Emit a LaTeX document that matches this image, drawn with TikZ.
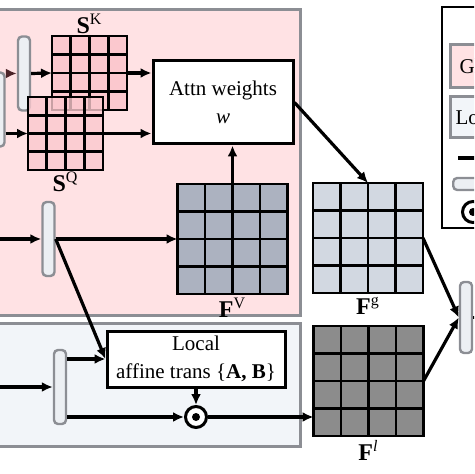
\documentclass[tikz,border=0pt]{standalone}
\usepackage{fontspec}
\setmainfont{Liberation Serif}
\usetikzlibrary{arrows.meta,calc,positioning}

\definecolor{globalbg}{RGB}{255,226,228}
\definecolor{localbg}{RGB}{242,245,249}
\definecolor{regionline}{RGB}{140,142,148}
\definecolor{pinkcell}{RGB}{251,200,206}
\definecolor{vcell}{RGB}{172,178,192}
\definecolor{gcell}{RGB}{210,216,225}
\definecolor{lcell}{RGB}{140,140,140}
\definecolor{barfill}{RGB}{236,239,243}
\definecolor{darkarrow}{RGB}{75,35,40}

\newcommand{\gridlines}[1]{%
  \foreach \k in {1,2,3} {
    \draw[cellline] ($(#1.north west)!\k/4!(#1.north east)$) -- ($(#1.south west)!\k/4!(#1.south east)$);
    \draw[cellline] ($(#1.north west)!\k/4!(#1.south west)$) -- ($(#1.north east)!\k/4!(#1.south east)$);
  }}

\begin{document}
\begin{tikzpicture}[x=0.5pt, y=-0.5pt,
  cellgrid/.style={draw, line width=1.4pt, outer sep=0pt, inner sep=0pt, minimum width=55pt, minimum height=55pt},
  cellline/.style={line width=1.4pt},
  vbar/.style={draw=regionline, fill=barfill, line width=1.2pt, rounded corners=2pt, minimum width=6pt, minimum height=37pt, inner sep=0pt},
  box/.style={draw, line width=1.5pt, fill=white, align=center, inner sep=0pt, font=\fontsize{10.5}{14}\selectfont},
  lbl/.style={font=\fontsize{12}{14}\selectfont, inner sep=1pt},
  arr/.style={line width=1.6pt, -{Latex[length=5.5pt,width=5pt]}},
  region/.style={draw=regionline, line width=1.5pt},
  legbox/.style={draw=regionline, line width=1.5pt, anchor=west, font=\fontsize{10.5}{14}\selectfont},
  odot/.style={circle, draw, line width=1.5pt, minimum size=10.5pt, inner sep=0pt, fill=white,
    path picture={\fill[black] (path picture bounding box.center) circle (2pt);}}]
\useasboundingbox (0,0) rectangle (474,474);
\clip (0,0) rectangle (474,474);

% branches
\draw[region, fill=globalbg] (-10,10) rectangle (300,315);
\draw[region, fill=localbg] (-10,323) rectangle (300,446);

% global branch
\node[vbar] (barL) at (-1.5,109.5) {};
\node[vbar] (barK) at (24,73.5) {};
\node[cellgrid, fill=pinkcell, minimum width=37.5pt, minimum height=37pt] (SK) at (89.5,73) {};
\gridlines{SK}
\node[cellgrid, fill=pinkcell, fill opacity=0.8, minimum width=37.5pt, minimum height=36.5pt] (SQ) at (65.5,133.5) {};
\gridlines{SQ}
\node[lbl, above=0pt of SK] (SKlabel) {\textbf{S}\textsuperscript{K}};
\node[lbl, below=0pt of SQ] (SQlabel) {\textbf{S}\textsuperscript{Q}};

\node[box, minimum width=70pt, minimum height=41.5pt] (attn) at (223,102.5) {Attn weights\\\textit{w}};

\node[vbar] (barV) at (48.5,239) {};
\node[cellgrid, fill=vcell] (FV) at (232.5,239) {};
\gridlines{FV}
\node[lbl, below=1pt of FV] (FVlabel) {\textbf{F}\textsuperscript{V}};

% local branch
\node[vbar] (barA) at (60,387) {};
\node[box, minimum width=89pt, minimum height=28pt] (affine) at (196,359) {Local\\affine trans \{\textbf{A, B}\}};
\node[odot] (mul) at (196,417) {};

% outputs
\node[cellgrid, fill=gcell] (Fg) at (368,238) {};
\gridlines{Fg}
\node[lbl, below=1pt of Fg] (Fglabel) {\textbf{F}\textsuperscript{g}};
\node[cellgrid, fill=lcell] (Fl) at (368.5,381) {};
\gridlines{Fl}
\node[lbl, below=1pt of Fl] (Fllabel) {\textbf{F}\textsuperscript{\textit{l}}};
\node[vbar, minimum height=35.5pt] (barR) at (466,317.5) {};

% legend
\draw[line width=1pt] (442,7) rectangle (520,228);
\node[legbox, fill=globalbg, minimum height=21.5pt, inner xsep=4.5pt] (legGlobal) at (449,66.5) {Global};
\node[legbox, fill=localbg, minimum height=20.5pt, inner xsep=2.5pt] (legLocal) at (449,117.5) {Local};
\coordinate (legArrS) at (458,158);
\coordinate (legArrE) at (500,158);
\node[draw=regionline, fill=barfill, line width=1.2pt, rounded corners=2pt, minimum width=25pt, minimum height=6pt, inner sep=0pt, anchor=west] (legBar) at (452,184) {};
\node[odot] (legMul) at (473,212) {};

% inputs and outputs beyond the frame
\coordinate (inV) at (-10,239);
\coordinate (inA) at (-10,387);
\coordinate (outR) at (495,317.5);

\draw[arr] (legArrS) -- (legArrE);
\draw[arr, darkarrow] ($(barL.east |- barK.west)+(3,0)$) -- (barK.west);
\draw[arr] (barK.east) -- (SK.west);
\draw[arr] (barL.east |- SQ.west) -- (SQ.west);
\draw[arr] (SK.east) -- (SK.east -| attn.west);
\draw[arr] (SQ.east) -- (SQ.east -| attn.west);
\draw[arr] (FV.north) -- (attn.south -| FV.north);
\draw[arr] (attn.east) -- (Fg.north);
\draw[arr] (inV) -- (barV.west);
\draw[arr] (barV.east) -- (FV.west);
\draw[arr] (barV.east) -- (affine.west);
\draw[arr] (inA) -- (barA.west);
\draw[arr] (barA.east |- affine.west) -- (affine.west);
\draw[arr] (barA.east |- mul.west) -- (mul.west);
\draw[arr] (affine.south) -- (mul.north);
\draw[arr] (mul.east) -- (mul.east -| Fl.west);
\draw[arr] (Fg.east) -- (barR.west);
\draw[arr] (Fl.east) -- (barR.west);
\draw[arr] (barR.east) -- (outR);
\end{tikzpicture}
\end{document}
